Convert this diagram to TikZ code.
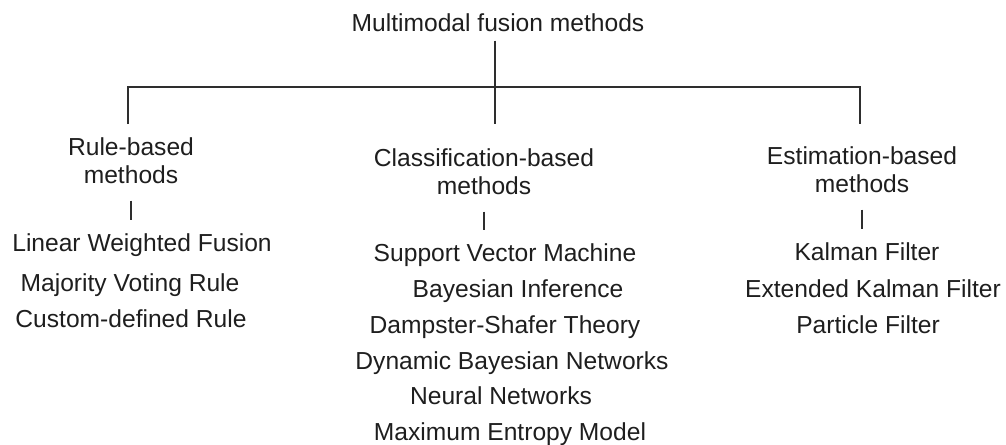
\documentclass[tikz,border=0pt]{standalone}
\usepackage{fontspec}
\setmainfont{Liberation Sans}
\usepackage{xcolor}
\usepackage{tikz}
\definecolor{InkGray}{HTML}{1E1E1E}
\definecolor{LineGray}{HTML}{2E2E2E}

\begin{document}
\begin{tikzpicture}[
        x=0.02cm, y=-0.02cm,
        lbl/.style={
          inner sep=0pt, anchor=base,
          font=\fontsize{14}{16.2}\selectfont\color{InkGray}
        },
        grouplbl/.style={
          lbl, anchor=north, align=center
        },
        link/.style={LineGray, line width=1.3pt},
        tick/.style={link, shorten <=0.33cm, shorten >=0.26cm}
      ]
      \useasboundingbox (0,0) rectangle (1006,444);

      % root and bar
      \node[lbl] (root) at (498,31) {Multimodal fusion methods};
      \coordinate (hub)   at (495,87);
      \coordinate (bar-l) at (128,87);
      \coordinate (bar-r) at (860,87);
      \coordinate (drop-l) at (128,124);
      \coordinate (drop-m) at (495,124);
      \coordinate (drop-r) at (860,124);

      % groups
      \node[grouplbl] (rule)  at (131,137) {Rule-based\\methods};
      \node[grouplbl] (class) at (484,148) {Classification-based\\methods};
      \node[grouplbl] (estim) at (862,146) {Estimation-based\\methods};

      % rule-based
      \node[lbl] (lwf)  at (142,251) {Linear Weighted Fusion};
      \node[lbl] (mvr)  at (130,291) {Majority Voting Rule};
      \node[lbl] (cdr)  at (131,327) {Custom-defined Rule};

      % classification-based
      \node[lbl] (svm)  at (505,261) {Support Vector Machine};
      \node[lbl] (bi)   at (518,297) {Bayesian Inference};
      \node[lbl] (dst)  at (505,333) {Dampster-Shafer Theory};
      \node[lbl] (dbn)  at (512,369) {Dynamic Bayesian Networks};
      \node[lbl] (nn)   at (501,404) {Neural Networks};
      \node[lbl] (mem)  at (510,440) {Maximum Entropy Model};

      % estimation-based
      \node[lbl] (kf)   at (867,260) {Kalman Filter};
      \node[lbl] (ekf)  at (873,297) {Extended Kalman Filter};
      \node[lbl] (pf)   at (868,333) {Particle Filter};

      \draw[link, shorten <=0.18cm] (root.south -| hub) -- (hub);
      \draw[link] (drop-l) -- (bar-l) -- (bar-r) -- (drop-r);
      \draw[link] (hub) -- (drop-m);

      \draw[tick] (rule.south)  -- (rule.south |- lwf.north);
      \draw[tick] (class.south) -- (class.south |- svm.north);
      \draw[tick] (estim.south) -- (estim.south |- kf.north);
    \end{tikzpicture}
\end{document}
